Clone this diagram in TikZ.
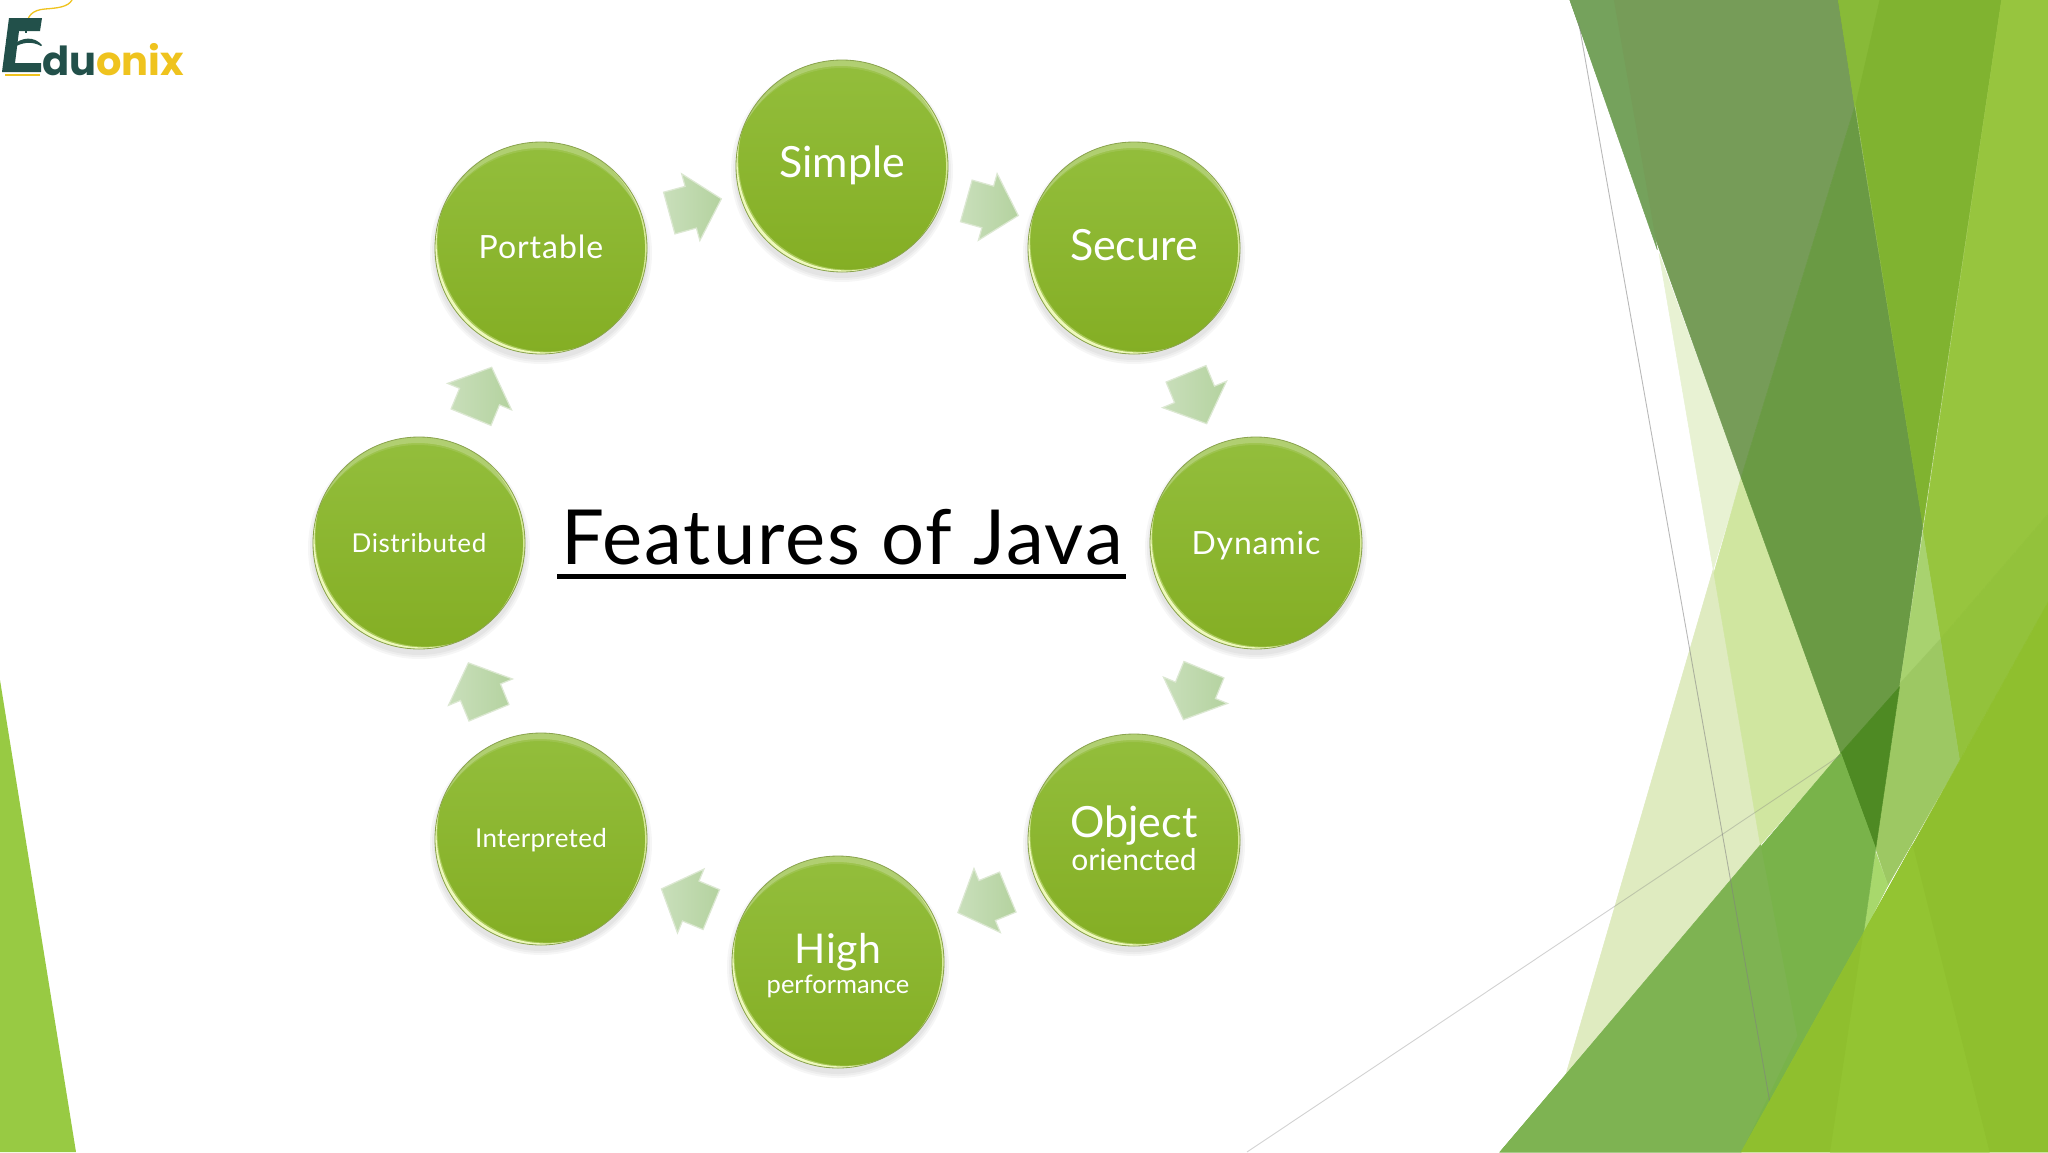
\documentclass[tikz,border=0pt]{standalone}
\usepackage{fontspec}
\setmainfont{Lato}
\newfontfamily\logofont{Poppins}
\newfontfamily\titlefont[LetterSpace=2.45]{Lato}
\usetikzlibrary{shapes.arrows,calc}
\definecolor{bgA}{HTML}{75A25C}\definecolor{bgB}{HTML}{769C58}\definecolor{bgC}{HTML}{6A9A44}
\definecolor{bgD}{HTML}{80B330}\definecolor{bgE}{HTML}{97C53E}\definecolor{bgF}{HTML}{93C23B}
\definecolor{bgG}{HTML}{A8D26F}\definecolor{bgH}{HTML}{9DC863}\definecolor{bgI}{HTML}{4E8A23}
\definecolor{bgJ}{HTML}{A8D86C}\definecolor{bgK}{HTML}{79B34A}\definecolor{bgL}{HTML}{8FBF2E}
\definecolor{bgM}{HTML}{E8F2D3}\definecolor{bgN}{HTML}{D0E6A0}\definecolor{bgO}{HTML}{DFEBC0}
\definecolor{bgP}{HTML}{93C432}\definecolor{bgQ}{HTML}{7EB352}\definecolor{bgR}{HTML}{98CA43}
\definecolor{bgS}{HTML}{88BA38}
\definecolor{ballTop}{HTML}{93BE3C}\definecolor{ballMid}{HTML}{8EB934}\definecolor{ballBot}{HTML}{84AE24}
\definecolor{ballGlow}{HTML}{EEF9BC}\definecolor{ballGlowB}{HTML}{D6EA96}\definecolor{ballEdge}{HTML}{8AA34E}
\definecolor{arrowLeft}{HTML}{C9DFBB}\definecolor{arrowRight}{HTML}{B4D29F}\definecolor{arrowEdge}{HTML}{DCE8D2}
\definecolor{logoDark}{HTML}{22504A}\definecolor{logoGold}{HTML}{EFC31E}
\tikzset{
  ball/.style={circle,minimum size=212pt,inner sep=0pt,text=white,
    draw=ballEdge,line width=.8pt,top color=ballTop,middle color=ballMid,bottom color=ballBot,
    path picture={
      \coordinate (pc) at (path picture bounding box.center);
      \fill[white,opacity=.1,even odd rule] (pc) circle (114pt) ($(pc)+(-1pt,-12pt)$) circle (110pt);
      \fill[white,opacity=.2,even odd rule] (pc) circle (114pt) ($(pc)+(-1pt,-8pt)$) circle (108pt);
      \fill[ballGlow,opacity=.35,even odd rule] (pc) circle (114pt) ($(pc)+(6.4pt,6.4pt)$) circle (110pt);
      \fill[ballGlow,even odd rule] (pc) circle (114pt) ($(pc)+(4.6pt,4.6pt)$) circle (109pt);
      \fill[ballGlowB,even odd rule] (pc) circle (114pt) ($(pc)+(-5.4pt,-.5pt)$) circle (109.5pt);
    }},
  softshadow/.style={fill=black,opacity=.035},
  blockarrow/.style={single arrow,minimum height=54pt,inner xsep=0pt,inner ysep=21pt,
    single arrow head extend=13pt,single arrow tip angle=95,sloped,allow upside down,pos=.44,
    left color=arrowLeft,right color=arrowRight,draw=arrowEdge,line width=1.2pt},
  hairline/.style={line width=.9pt,draw=gray,opacity=.55},
}
\newcommand{\facet}[2]{\filldraw[fill=#1,draw=#1,line width=.5pt] #2 -- cycle;}
\newcommand{\balltext}[4]{\smash{\makebox[0pt]{\raisebox{-#1pt}{\fontsize{#2}{#2}\selectfont\addfontfeature{LetterSpace=#3}#4}}}}
\newcommand{\ballnode}[4]{%
  \foreach \s in {107,109,111}{\fill[softshadow] (#2,#3+5) circle (\s pt);}
  \node[ball] (#1) at (#2,#3) {#4};}
\begin{document}
\begin{tikzpicture}[x=1pt,y=-1pt]
\useasboundingbox (0,0) rectangle (2048,1152);
\fill[white] (0,0) rectangle (2048,1152);
\fill[bgR] (0,680) -- (76,1152) -- (0,1152) -- cycle;
\begin{scope}[xshift=1500pt,x=.34949pt,y=-.73469pt]
 \facet{bgO}{(610,775) -- (745,1150) -- (190,1460)}
 \facet{bgM}{(455,345) -- (690,650) -- (610,775)}
 \facet{bgN}{(690,650) -- (975,1025) -- (745,1150) -- (612,780)}
 \facet{bgB}{(200,0) -- (968,0) -- (1015,145) -- (690,650)}
 \facet{bgA}{(200,0) -- (325,0) -- (450,340)}
 \facet{bgC}{(1015,145) -- (1210,715) -- (1143,935) -- (975,1025) -- (690,650)}
 \facet{bgD}{(968,0) -- (1435,0) -- (1210,715)}
 \facet{bgS}{(968,0) -- (1085,0) -- (1015,145)}
 \facet{bgE}{(1435,0) -- (1568,0) -- (1568,700) -- (1260,870) -- (1210,725)}
 \facet{bgF}{(1568,700) -- (1568,820) -- (1315,1035) -- (1260,870)}
 \facet{bgG}{(1210,725) -- (1260,870) -- (1145,930)}
 \facet{bgH}{(1145,930) -- (1260,870) -- (1315,1035) -- (1110,1205) -- (1075,1155)}
 \facet{bgI}{(975,1025) -- (1143,935) -- (1075,1155)}
 \facet{bgJ}{(1075,1160) -- (1110,1205) -- (1040,1270)}
 \facet{bgK}{(0,1568) -- (975,1025) -- (1075,1155) -- (1040,1270) -- (690,1568)}
 \facet{bgQ}{(0,1568) -- (745,1150) -- (850,1410) -- (690,1568)}
 \coordinate (lineOneA) at (225,30); \coordinate (lineOneB) at (772,1500);
 \draw[hairline] (lineOneA) -- (lineOneB);
 \facet{bgL}{(1568,820) -- (1568,1568) -- (690,1568) -- (1040,1270)}
 \facet{bgP}{(945,1568) -- (1040,1270) -- (1180,1150) -- (1400,1568)}
\end{scope}
\coordinate (lineTwoA) at (1247,1152); \coordinate (lineTwoB) at (1841,755);
\draw[hairline,opacity=.35] (lineTwoA) -- (lineTwoB);
% logo
\draw[logoGold,line width=1.3pt] (26.5,30) .. controls (26,15) and (33,10) .. (45,9) .. controls (58,8) and (68,7) .. (72,0);
\fill[logoDark] (9,18) -- (42,18) -- (40,31) -- (19,31) -- (15,63) -- (41,63) -- (41,72) -- (2,72) -- cycle;
\fill[logoDark] (13,45) .. controls (22,37) and (34,36) .. (42,45) -- (41,46) .. controls (32,41) and (22,42) .. (13,48) -- cycle;
\draw[logoDark,line width=1.3pt] (26,26) -- (26,33);
\fill[logoGold] (5,74) -- (40,74) -- (40,76) -- (5,76) -- cycle;
\node[font=\logofont\fontsize{40}{40}\selectfont\bfseries,anchor=base west,inner sep=0pt] (logo) at (42,75)
  {\textcolor{logoDark}{du}\textcolor{logoGold}{onix}};
% balls
\ballnode{simple}{842}{166}{\balltext{11}{43}{0}{Simple}}
\ballnode{secure}{1134}{248}{\balltext{12}{43}{0}{Secure}}
\ballnode{dynamic}{1256}{543}{\balltext{11}{32}{2.6}{Dynamic}}
\ballnode{object}{1134}{840}{\balltext{-3}{43}{0}{Object}\balltext{30}{30}{0}{oriencted}}
\ballnode{high}{838}{962}{\balltext{1}{41}{1}{High}\balltext{31}{25.5}{0}{performance}}
\ballnode{interpreted}{541}{839}{\balltext{8}{26}{1.2}{Interpreted}}
\ballnode{distributed}{419}{543}{\balltext{9}{26}{2.3}{Distributed}}
\ballnode{portable}{541}{248}{\balltext{10}{32}{3}{Portable}}
% block arrows
\path (portable) -- node[blockarrow] (arrowA) {} (simple);
\path (simple) -- node[blockarrow] (arrowB) {} (secure);
\path (secure) -- node[blockarrow] (arrowC) {} (dynamic);
\path (dynamic) -- node[blockarrow] (arrowD) {} (object);
\path (object) -- node[blockarrow] (arrowE) {} (high);
\path (high) -- node[blockarrow] (arrowF) {} (interpreted);
\path (interpreted) -- node[blockarrow] (arrowG) {} (distributed);
\path (distributed) -- node[blockarrow] (arrowH) {} (portable);
% title
\node[font=\titlefont\fontsize{76}{76}\selectfont,inner sep=0pt,anchor=base] (title) at (842,564) {Features of Java};
\draw[line width=5pt] (557,576.5) coordinate (ulA) -- (1126,576.5) coordinate (ulB);
\end{tikzpicture}
\end{document}
